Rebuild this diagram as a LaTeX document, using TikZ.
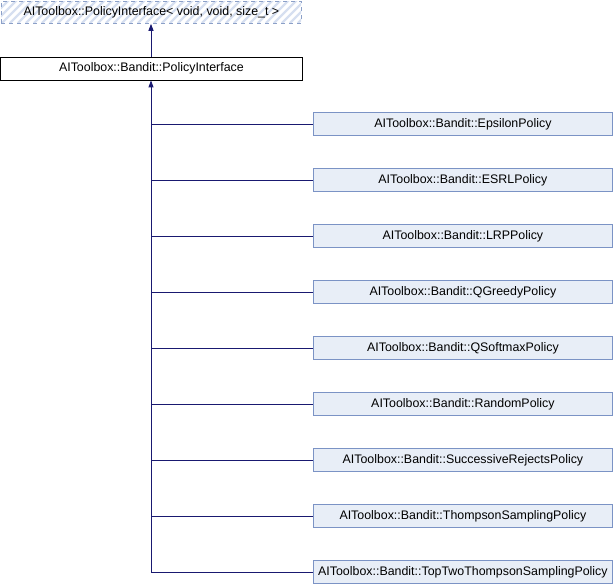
\documentclass[tikz,border=0pt]{standalone}
\usepackage{fontspec}
\setmainfont{Liberation Sans}
\usetikzlibrary{arrows.meta}
\definecolor{edgeblue}{HTML}{191970}
\definecolor{boxfill}{HTML}{E8EEF7}
\definecolor{boxline}{HTML}{7B93C5}
\definecolor{hatch}{HTML}{D6DFF0}
\definecolor{dashline}{HTML}{8CA0C8}
\begin{document}
\begin{tikzpicture}[x=1pt,y=-1pt,
  lbl/.style={font=\fontsize{12.4}{14}\selectfont},
  cls/.style={lbl, draw=boxline, fill=boxfill, line width=0.8pt, minimum width=299pt, minimum height=23pt, inner sep=0pt, anchor=west},
  base/.style={lbl, draw=black, fill=white, line width=0.8pt, minimum width=301pt, minimum height=23pt, inner sep=0pt, anchor=west},
  edge/.style={draw=edgeblue, line width=0.9pt},
  inh/.style={edge, -{Triangle[length=7pt,width=5pt]}}]
\useasboundingbox (0,0) rectangle (614,584);
% top hatched box
\begin{scope}
\clip (1,1) rectangle (301,23);
\foreach \i in {-30,-22,...,310} {
  \draw[hatch, line width=2.2pt] (\i,23) -- ++(24,-24);
}
\end{scope}
\node[lbl, draw=dashline, dash pattern=on 4pt off 4pt, line width=0.8pt, minimum width=300pt, minimum height=22pt, inner sep=0pt, anchor=north west] (top) at (1,1) {AIToolbox::PolicyInterface< void, void, size\_t >};
\node[base] (mid) at (0.5,68.5) {AIToolbox::Bandit::PolicyInterface};
\draw[inh] (mid.north -| 151,0) -- (top.south -| 151,0);
\foreach \n/\t [count=\k] in {
  c1/EpsilonPolicy, c2/ESRLPolicy, c3/LRPPolicy, c4/QGreedyPolicy, c5/QSoftmaxPolicy,
  c6/RandomPolicy, c7/SuccessiveRejectsPolicy, c8/ThompsonSamplingPolicy, c9/TopTwoThompsonSamplingPolicy} {
  \node[cls] (\n) at (313, 68+56*\k) {AIToolbox::Bandit::\t};
  \draw[edge] (151, 68+56*\k) -- (\n.west);
}
\coordinate (j) at (151,572);
\draw[inh] (j) -- (mid.south -| 151,0);
\end{tikzpicture}
\end{document}
